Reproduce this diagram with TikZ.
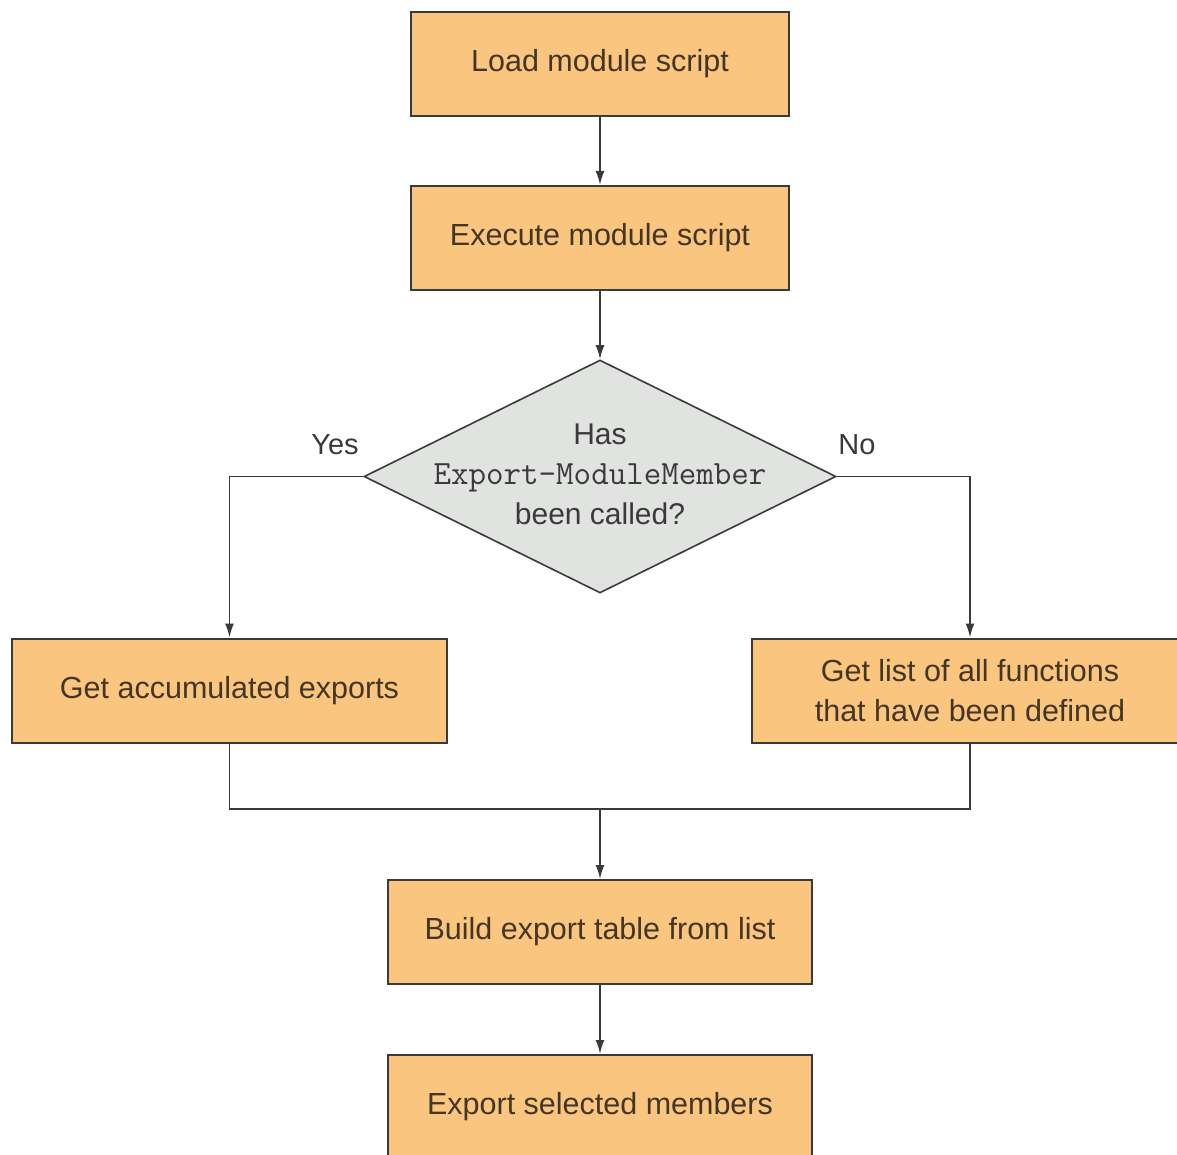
\documentclass[tikz,border=0pt]{standalone}
\usepackage{fontspec}
\setmainfont{Liberation Sans}
\usetikzlibrary{shapes.geometric,arrows.meta}
\definecolor{boxfill}{RGB}{250,197,127}
\definecolor{diafill}{RGB}{225,227,225}
\definecolor{boxtext}{RGB}{68,54,36}
\definecolor{linecol}{RGB}{58,58,58}
\tikzset{
  procbox/.style={draw=linecol, line width=2pt, fill=boxfill, rectangle, minimum width=#1, minimum height=104pt, inner sep=0pt, text=boxtext, font=\fontsize{30.5pt}{40pt}\selectfont, align=center},
  diabox/.style={draw=linecol, line width=1.6pt, fill=diafill, diamond, minimum width=472pt, minimum height=233pt, inner sep=0pt, aspect=2.03},
  lbl/.style={text=linecol, font=\fontsize{29pt}{36pt}\selectfont},
  conn/.style={draw=linecol, line width=1.8pt},
  arr/.style={conn, -{Latex[length=14pt,width=9pt]}}
}
\begin{document}
\begin{tikzpicture}[x=1pt,y=-1pt]
\useasboundingbox (0,0) rectangle (1177,1155);
\clip (0,0) rectangle (1177,1155);
\fill[white] (0,0) rectangle (1177,1155);
\node[procbox=378pt] (load) at (600,64) {Load module script};
\node[procbox=378pt] (exec) at (600,238) {Execute module script};
\node[diabox] (dec) at (600,476.5) {};
\node[text=linecol, align=center, font=\fontsize{30pt}{40pt}\selectfont] (dectext) at (600,474) {Has\\{\fontsize{34pt}{40pt}\selectfont\ttfamily Export-ModuleMember}\\been called?};
\node[procbox=435pt] (acc) at (229.5,690.5) {Get accumulated exports};
\node[procbox=436pt] (list) at (970,690.5) {Get list of all functions\\that have been defined};
\node[procbox=424pt] (build) at (600,932) {Build export table from list};
\node[procbox=424pt] (expsel) at (600,1107) {Export selected members};
\node[lbl] (yes) at (335,445) {Yes};
\node[lbl] (no) at (857,445) {No};
\coordinate (merge) at (600,809);
\draw[arr] (load.south) -- (exec.north);
\draw[arr] (exec.south) -- (dec.north);
\draw[arr] (dec.west) -| (acc.north);
\draw[arr] (dec.east) -| (list.north);
\draw[conn] (acc.south) |- (merge) -| (list.south);
\draw[arr] (merge) -- (build.north);
\draw[arr] (build.south) -- (expsel.north);
\end{tikzpicture}
\end{document}
